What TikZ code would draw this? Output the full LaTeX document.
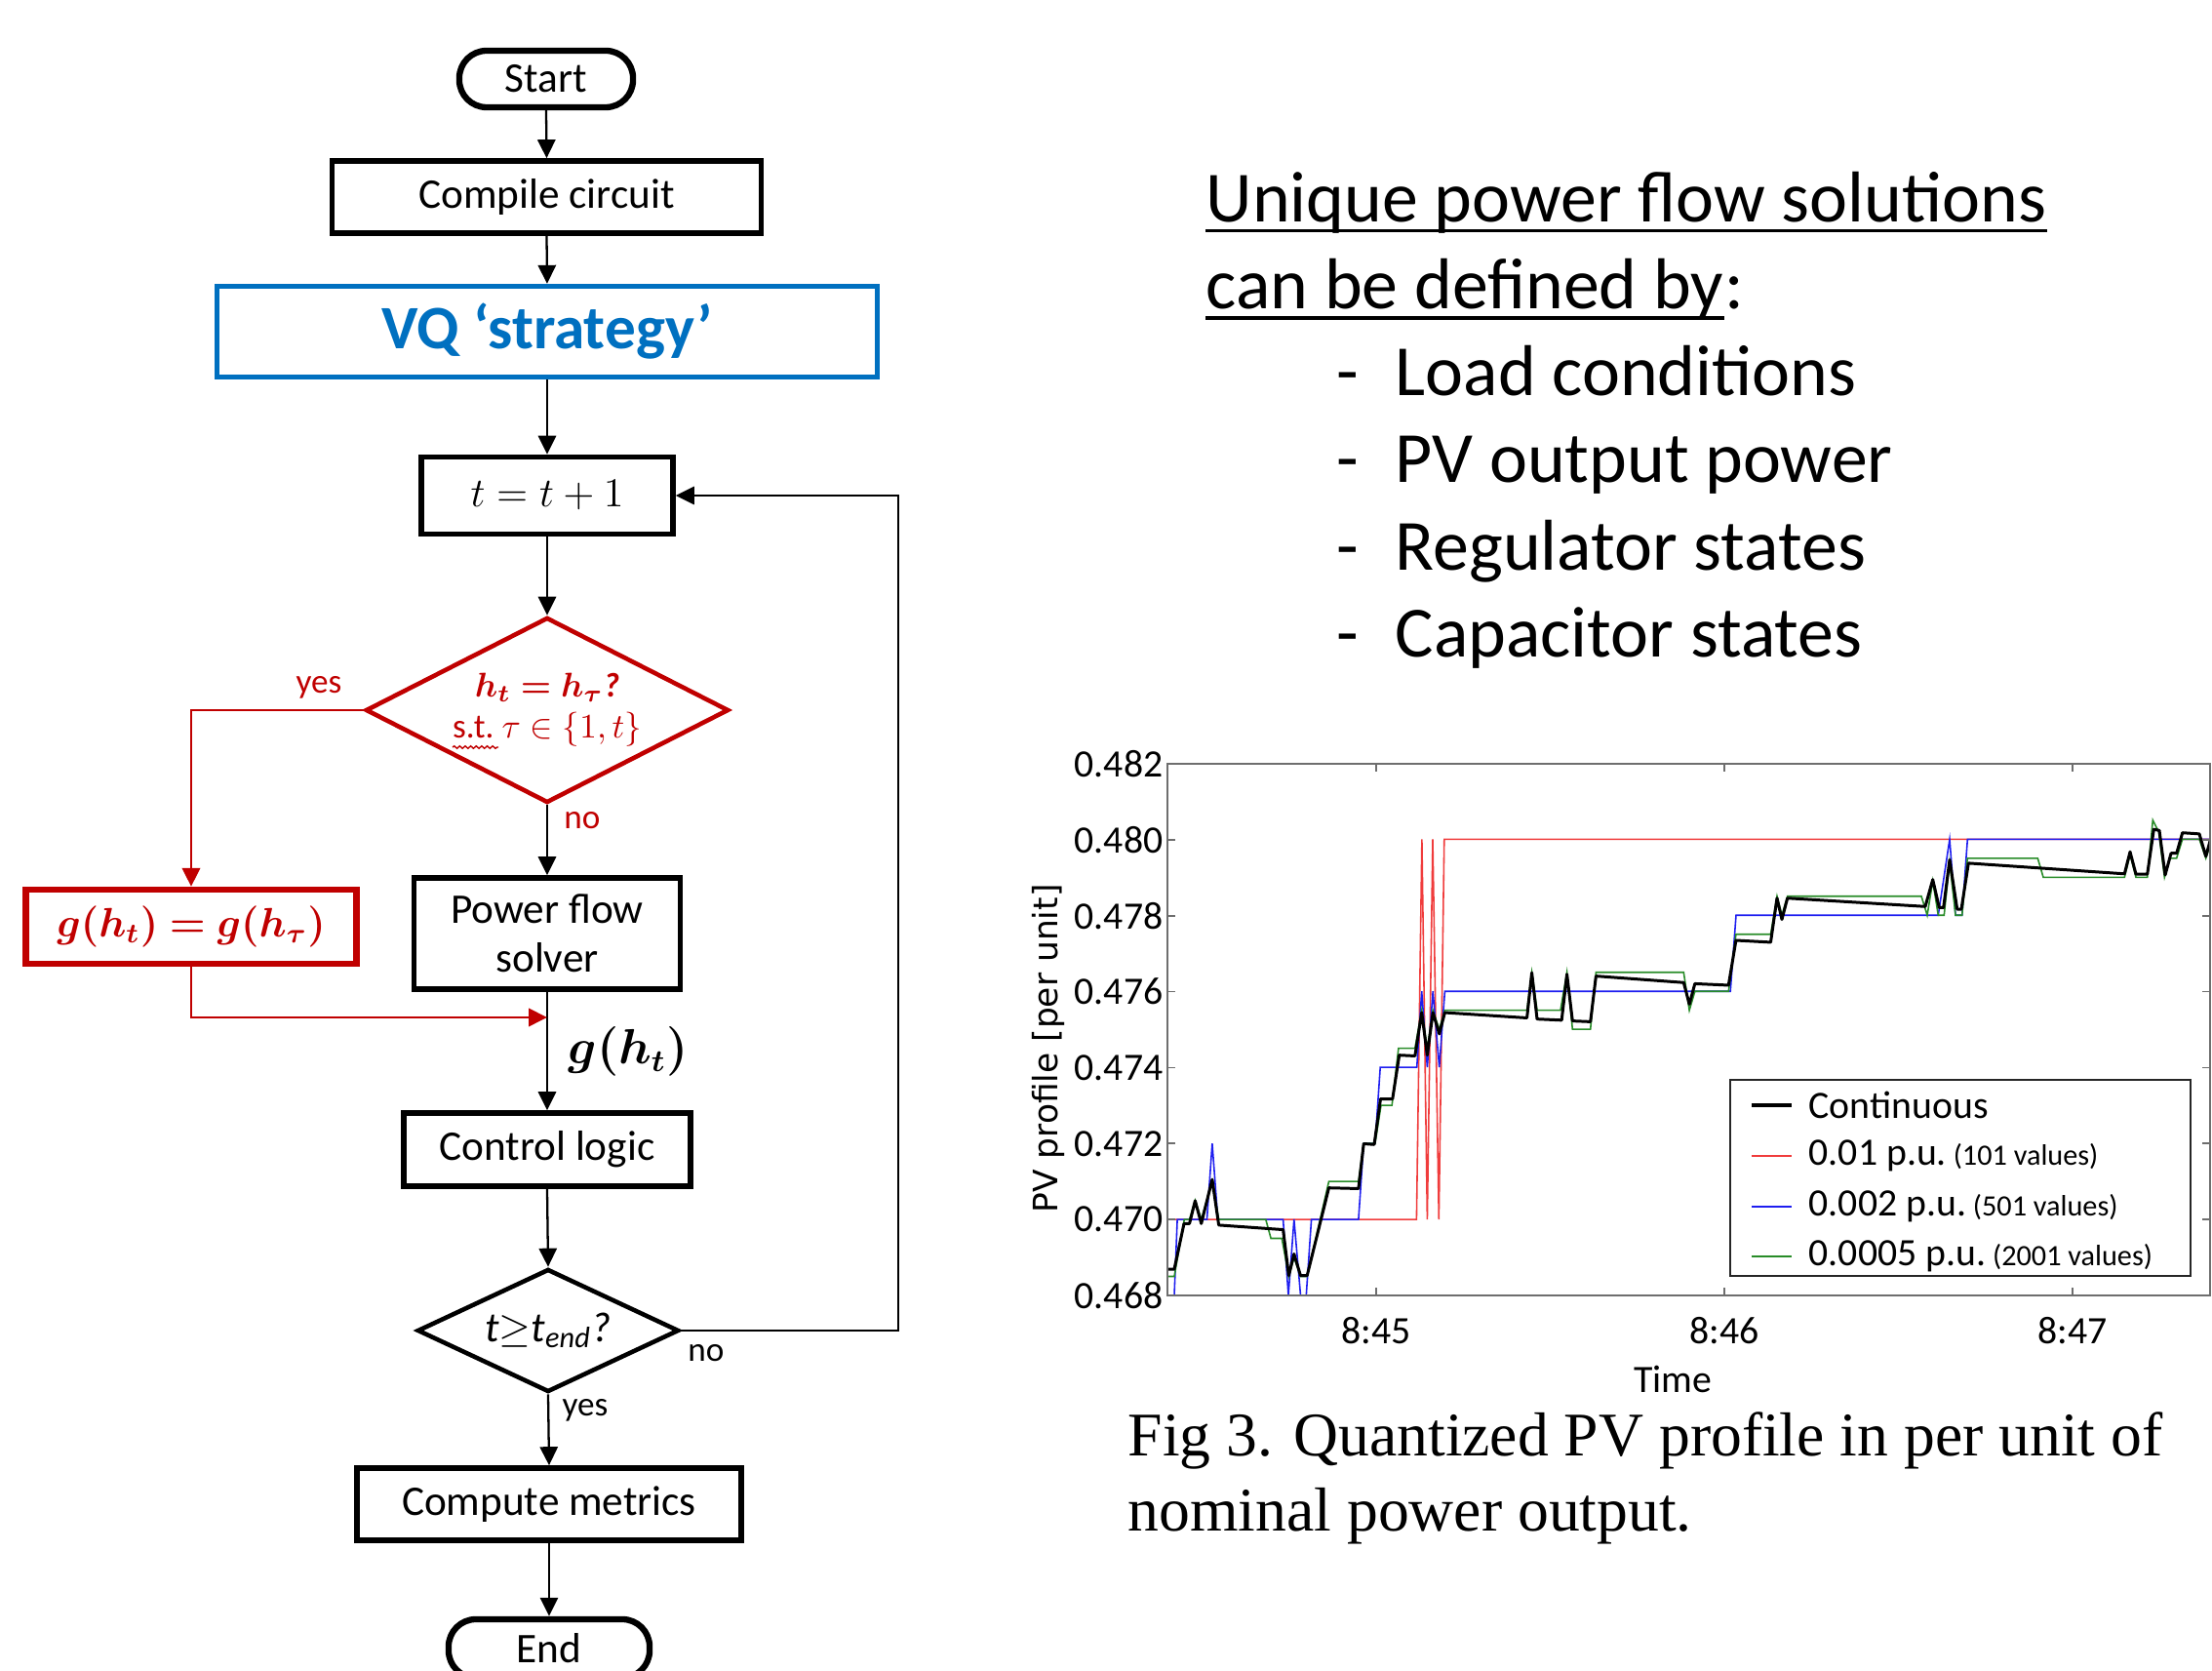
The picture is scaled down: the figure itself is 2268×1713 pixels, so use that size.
\documentclass[tikz,border=0pt]{standalone}
\usepackage[no-math]{fontspec}
\setmainfont{Carlito}
\newfontfamily\serifcap{Liberation Serif}
\newfontfamily\dejavu{DejaVu Sans}
\usepackage{amsmath,bm}
\usetikzlibrary{shapes.geometric,arrows.meta,calc,decorations.pathmorphing}

\definecolor{vqblue}{RGB}{0,112,192}
\definecolor{fred}{RGB}{192,0,0}
\definecolor{pred}{RGB}{240,60,60}
\definecolor{pblue}{RGB}{30,30,240}
\definecolor{pgreen}{RGB}{40,140,40}
\definecolor{axgray}{RGB}{110,110,110}

\newcommand{\fcfont}{\fontsize{12.3}{14.2}\selectfont}
\newcommand{\vqfont}{\fontsize{18}{21}\selectfont\bfseries}
\newcommand{\dmfont}{\fontsize{10}{12}\selectfont}
\newcommand{\gfont}{\fontsize{12}{14}\selectfont}
\newcommand{\ghfont}{\fontsize{13.5}{16}\selectfont}
\newcommand{\lblfont}{\fontsize{10}{12}\selectfont}
\newcommand{\bigfont}{\fontsize{21}{25}\selectfont}
\newcommand{\tickfont}{\fontsize{11.3}{13.5}\selectfont}
\newcommand{\smallval}{\fontsize{8.6}{10}\selectfont}
\newcommand{\capfont}{\serifcap\fontsize{18.1}{21.9}\selectfont}
\newcommand{\ylabfont}{\dejavu\fontsize{9.8}{12}\selectfont}

\begin{document}
\begin{tikzpicture}[x=0.01cm,y=-0.01cm,
  fcbox/.style={draw, line width=1.6pt, inner sep=0pt, font=\fcfont, align=center},
  term/.style={fcbox, line width=1.8pt, rounded corners=0.28cm},
  arr/.style={-{Triangle[length=5.4pt,width=5.2pt]}, line width=0.65pt},
  rarr/.style={arr, draw=fred, color=fred, line width=0.8pt},
  lbl/.style={font=\lblfont, inner sep=0pt},
  bigtxt/.style={font=\bigfont, inner sep=0pt, anchor=base west},
  capt/.style={font=\capfont, inner sep=0pt, anchor=base west},
  tlab/.style={font=\tickfont, inner sep=0pt},
  legtxt/.style={font=\tickfont, inner sep=0pt, anchor=west},
]
\useasboundingbox (0,0) rectangle (2268,1713);
\fill[white] (0,0) rectangle (2268,1713);

% ---------------- flowchart ----------------
\node[term, minimum width=1.78cm, minimum height=0.58cm] (start) at (560,81) {Start};
\node[fcbox, minimum width=4.40cm, minimum height=0.74cm] (compile) at (560.5,202) {Compile circuit};
\node[fcbox, draw=vqblue, line width=1.5pt, minimum width=6.76cm, minimum height=0.93cm, font=\vqfont, text=vqblue] (vq) at (561,340) {VQ ‘strategy’};
\node[fcbox, minimum width=2.58cm, minimum height=0.79cm] (tt) at (561,508) {$t=t+1$};
\node[diamond, aspect=1.96, draw=fred, line width=1.3pt, minimum width=3.72cm, minimum height=1.90cm, inner sep=0pt, text=fred, align=center, font=\dmfont] (d1) at (561,728)
  {$\bm{h_t = h_\tau}$\textbf{\textit{?}}\\ s.t.\ $\tau\in\{1,t\}$};
\node[fcbox, draw=fred, line width=1.8pt, minimum width=3.39cm, minimum height=0.76cm, text=fred, font=\gfont] (gbox) at (196,950) {$\bm{g(h_t)=g(h_\tau)}$};
\node[fcbox, minimum width=2.73cm, minimum height=1.14cm] (pfs) at (561,957) {Power flow\\solver};
\node[fcbox, minimum width=2.94cm, minimum height=0.75cm] (ctl) at (561,1178.5) {Control logic};
\node[diamond, aspect=2.13, draw, line width=1.3pt, minimum width=2.68cm, minimum height=1.26cm, inner sep=0pt, font=\fcfont] (d2) at (562,1364)
  {\textit{t}$\geq$\textit{t\textsubscript{end}?}};
\node[fcbox, minimum width=3.94cm, minimum height=0.74cm] (cm) at (563,1542) {Compute metrics};
\node[term, minimum width=2.06cm, minimum height=0.60cm] (end) at (563,1690) {End};

\coordinate (merge) at (561,1043);
\coordinate (loop) at (921,1364);

\draw[arr] (start.south) -- (compile.north);
\draw[arr] (compile.south) -- (vq.north);
\draw[arr] (vq.south) -- (tt.north);
\draw[arr] (tt.south) -- (d1.north);
\draw[arr] (d1.south) -- (pfs.north);
\draw[arr] (pfs.south) -- (ctl.north);
\draw[rarr] (d1.west) -| (gbox.north);
\draw[rarr] (gbox.south) |- (merge);
\draw[arr] (ctl.south) -- (d2.north);
\draw[arr] (d2.east) -- (loop) |- (tt.east);
\draw[arr] (d2.south) -- (cm.north);
\draw[arr] (cm.south) -- (end.north);

\draw[fred, line width=0.4pt, decorate, decoration={snake, amplitude=0.35pt, segment length=1.6pt}]
  ($(d1.center)+(-97,38)$) -- ($(d1.center)+(-50,38)$);

\node[lbl, text=fred] (yes1) at (327,705) {yes};
\node[lbl, text=fred] (no1) at (597,841) {no};
\node[lbl] (no2) at (724,1387) {no};
\node[lbl] (yes2) at (600,1446) {yes};
\node[font=\ghfont, inner sep=0pt] (ght) at (644,1078) {$\bm{g(h_t)}$};

% ---------------- right text ----------------
\node[bigtxt] (h1) at (1236,227.5) {Unique power flow solutions};
\draw[line width=1.1pt] ($(h1.base west)+(0,9)$) -- ($(h1.base east)+(0,9)$);
\node[bigtxt] (h2) at (1236,317) {can be defined by};
\node[bigtxt] (h2c) at (h2.base east) {:};
\draw[line width=1.1pt] ($(h2.base west)+(0,9)$) -- ($(h2.base east)+(0,9)$);
\node[bigtxt] (da) at (1370,406) {-};
\node[bigtxt] (ba) at (1430,406) {Load conditions};
\node[bigtxt] (db) at (1370,495) {-};
\node[bigtxt] (bb) at (1430,495) {PV output power};
\node[bigtxt] (dc) at (1370,585) {-};
\node[bigtxt] (bc) at (1430,585) {Regulator states};
\node[bigtxt] (dd) at (1370,674) {-};
\node[bigtxt] (bd) at (1430,674) {Capacitor states};

% ---------------- plot ----------------
\begin{scope}[shift={(1197,1328)}, x=0.01cm, y=0.3895cm]
  \clip (0,0) rectangle (1069,14);
  \draw[pred, line width=0.45pt] plot coordinates {(0,2) (255.4,2) (260.9,12) (266.4,2) (272,12) (278.3,2) (283.8,12) (1075,12)};
  \draw[pblue, line width=0.45pt] plot coordinates {(0,0) (7,0) (10.1,2) (40.5,2) (45.9,4) (51.7,2) (118.6,2) (124,0) (129.8,2) (136.5,0) (142.3,0) (147.6,2) (195.9,2) (201.2,4) (212.9,4) (218.2,6) (255.7,6) (260.7,8) (266.4,6) (272.2,8) (278.7,6) (284.4,8) (577.2,8) (583,10) (790.3,10) (802,12) (808,10) (814.7,10) (820.3,12) (1075,12)};
  \draw[pgreen, line width=0.45pt] plot coordinates {(0,0.5) (7,0.5) (17.3,2) (22.6,2) (28.4,2.5) (34.7,2) (45.9,3) (52.6,2) (100.8,2) (106.1,1.5) (117.3,1.5) (124.4,0.5) (129.8,1.0) (136.5,0.5) (143.2,0.5) (165.5,3) (195.9,3) (201.2,4) (212.9,4) (219,5) (230.2,5) (236.9,6.5) (253.8,6.5) (260.7,7.5) (266.4,6.5) (272.2,7.5) (278.7,7) (284.4,7.5) (368.6,7.5) (373.6,8.5) (379,7.5) (403,7.5) (409.6,8.5) (415.3,7) (433.7,7) (439.4,8.5) (529.3,8.5) (535.1,7.5) (540.8,8) (575.3,8) (582.9,9.5) (618.5,9.5) (625,10.5) (630,10) (635.7,10.5) (773,10.5) (779,10) (784.7,10.9) (790.3,10) (796.3,10) (802,11.4) (808,10) (814.7,10) (820.3,11.5) (892.3,11.5) (898,11) (981.3,11) (987,11.6) (993,11) (1004.7,11) (1010.3,12.5) (1016.3,12.2) (1022.3,11) (1028,11.5) (1034.7,11.5) (1040.7,12) (1058,12) (1064.7,11.5) (1071,12)};
  \draw[black, line width=0.85pt, line join=round] plot coordinates {(0,0.69) (7,0.69) (17,1.89) (22.6,1.89) (28.4,2.49) (34.7,1.89) (45.9,3.05) (52.6,1.85) (118.6,1.73) (124.4,0.52) (129.8,1.09) (136.5,0.52) (143.2,0.52) (165.5,2.83) (195.9,2.81) (201.2,3.99) (212,3.97) (218.5,5.17) (230.8,5.17) (237.7,6.32) (253.8,6.30) (260.7,7.44) (266.4,6.32) (272.2,7.44) (278.7,6.88) (284.4,7.44) (368.6,7.3) (373.6,8.49) (379,7.27) (404.2,7.24) (409.6,8.45) (415.3,7.22) (433.7,7.2) (439.4,8.4) (529.3,8.23) (535.1,7.66) (540.8,8.2) (575.3,8.16) (582.9,9.34) (618.5,9.29) (625,10.45) (630,9.89) (635.7,10.45) (777,10.23) (784.7,10.94) (791.3,10.2) (795.7,10.2) (802,11.46) (809.7,10.16) (814,10.16) (821.3,11.37) (981.3,11.09) (987,11.67) (993,11.08) (1004.7,11.08) (1011.3,12.26) (1017,12.23) (1023,11.06) (1029,11.63) (1034.7,11.63) (1040.7,12.17) (1058,12.14) (1064.7,11.55) (1071,12.14)};
\end{scope}

\draw[axgray, line width=0.6pt] (1197,783) rectangle (2266,1328);
\foreach \i/\lab in {0/0.468,1/0.470,2/0.472,3/0.474,4/0.476,5/0.478,6/0.480,7/0.482}{
  \draw[axgray, line width=0.5pt] (1197,1328-\i*77.86) -- (1205,1328-\i*77.86);
  \draw[axgray, line width=0.5pt] (2258,1328-\i*77.86) -- (2266,1328-\i*77.86);
  \node[tlab, anchor=east] at (1193,1328-\i*77.86) {\lab};
}
\foreach \xx/\lab in {1411/8:45,1768/8:46,2125/8:47}{
  \draw[axgray, line width=0.5pt] (\xx,1328) -- (\xx,1320);
  \draw[axgray, line width=0.5pt] (\xx,783) -- (\xx,791);
  \node[tlab] at (\xx,1364) {\lab};
}
\node[tlab] (timelab) at (1715,1414) {Time};
\node[rotate=90, font=\ylabfont, inner sep=0pt] (ylab) at (1075,1075) {PV profile [per unit]};

% legend
\node[draw=black!85, line width=0.5pt, fill=white, minimum width=4.72cm, minimum height=2.01cm, inner sep=0pt] (leg) at (2010,1207.5) {};
\draw[black, line width=1.2pt] (1796,1133) -- (1837,1133);
\node[legtxt] (l1) at (1854,1133) {Continuous};
\draw[pred, line width=0.5pt] (1796,1185) -- (1837,1185);
\node[legtxt] (l2) at (1854,1185) {0.01 p.u.{\smallval\ (101 values)}};
\draw[pblue, line width=0.5pt] (1796,1237) -- (1837,1237);
\node[legtxt] (l3) at (1854,1237) {0.002 p.u.{\smallval\ (501 values)}};
\draw[pgreen, line width=0.5pt] (1796,1288) -- (1837,1288);
\node[legtxt] (l4) at (1854,1288) {0.0005 p.u.{\smallval\ (2001 values)}};

% caption
\node[capt] (cap1) at (1156,1493) {Fig 3. Quantized PV profile in per unit of};
\node[capt] (cap2) at (1156,1570) {nominal power output.};
\end{tikzpicture}
\end{document}
